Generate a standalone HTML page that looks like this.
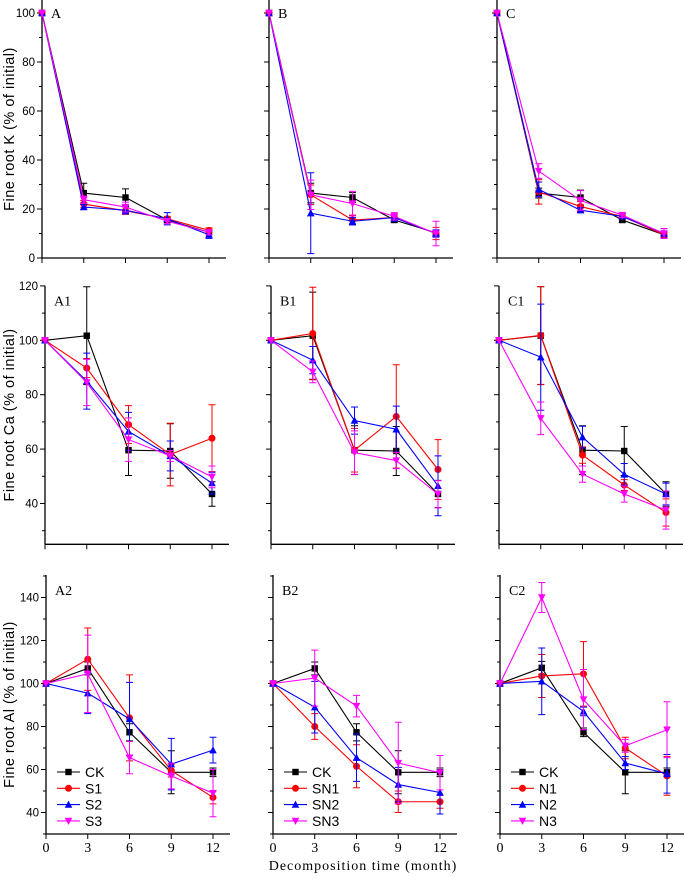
<!DOCTYPE html>
<html><head><meta charset="utf-8">
<style>
html,body{margin:0;padding:0;background:#fff;}
svg{display:block;}
.sans{font-family:"Liberation Sans",Arial,sans-serif;}
.serif{font-family:"Liberation Serif","Times New Roman",serif;}
</style></head>
<body>
<svg id="chart" width="685" height="877" viewBox="0 0 685 877" xmlns="http://www.w3.org/2000/svg"></svg>
<script>
const months = [0, 3, 6, 9, 12];
const colors = ["#000000", "#ff0000", "#0000ff", "#ff00ff"];
const markers = ["square", "circle", "triangle", "triangleDown"];
const rowTitles = ["Fine root K (% of initial)", "Fine root Ca (% of initial)", "Fine root Al (% of initial)"];
const panelLabels = [["A","B","C"],["A1","B1","C1"],["A2","B2","C2"]];
const legendNames = [["CK","S1","S2","S3"],["CK","SN1","SN2","SN3"],["CK","N1","N2","N3"]];
const yTicksK = [0, 20, 40, 60, 80, 100];
const yTicksCa = [40, 60, 80, 100, 120];
const yTicksAl = [40, 60, 80, 100, 120, 140];
const xTickLabels = ["0","3","6","9","12"];

// Row 1: K
const kA = [[100,26.5,24.7,15.5,10.5],[100,22,19.3,16,11.3],[100,20.8,19.5,16,9.5],[100,23.8,20.8,15,10.5]];
const kAerr = [[0,4,3.5,1,1],[0,1.5,1.5,1,1],[0,1,1.5,2.5,1.5],[0,1.5,2,1,1]];
const kB = [[100,26.5,24.7,15.5,10.3],[100,25.8,15.5,16.5,10],[100,18.3,15,16.5,10],[100,25.8,22.2,17,10]];
const kBerr = [[0,4,2,1,1],[0,4,2,1,2.5],[0,16.5,1.5,1.5,1.5],[0,6,5,1.5,5]];
const kC = [[100,26.5,24.7,15.5,9.5],[100,27,21,17,9.5],[100,28,19.5,17,10],[100,35.5,23.5,17.5,10]];
const kCerr = [[0,2,3,1,1],[0,5,2,1,1],[0,3,1,1,2],[0,3,4,1,2]];
// Row 2: Ca
const caA = [[100,101.7,59.6,59.3,43.5],[100,89.8,69,58,64],[100,85,66.5,57.5,47.5],[100,84.5,63.5,57.5,49.8]];
const caAerr = [[0,18,9.3,10,4.5],[0,3.5,7,11.5,12.3],[0,10.3,7,5.5,4],[0,8.5,8,2,4]];
const caB = [[100,101.7,59.6,59.3,43.5],[100,102.5,59.6,72,52.5],[100,92.7,70.5,67.3,46.5],[100,88.4,58.7,55.8,43.4]];
const caBerr = [[0,16,9,9,5],[0,17,8,19,11],[0,5,5,8.5,11],[0,4,8,3,5]];
const caC = [[100,101.7,59.6,59.3,43.5],[100,101.8,57.8,46.8,36.7],[100,93.8,64.4,50.7,43.5],[100,71.3,50.8,43.5,37.6]];
const caCerr = [[0,18,9,9,4.5],[0,18,3,2,5],[0,19.5,4,4,4],[0,6,3,3,7]];
// Row 3: Al
const alA = [[100,107,77.3,58.7,58.7],[100,111.3,84,59.5,47],[100,95.5,83.5,62.5,69],[100,104.5,65.5,57,49]];
const alAerr = [[0,3,4,10,2],[0,14.5,20,3,3],[0,9.5,17,12,6],[0,18,7.5,6,11]];
const alB = [[100,107,77.3,58.7,58.7],[100,80,61.5,45,45],[100,89,65.5,53,49.3],[100,102.5,89.5,63,58.5]];
const alBerr = [[0,3,4,10,2],[0,6,10,5,3],[0,12,11,8,10],[0,13,5,19,8]];
const alC = [[100,107.3,77.3,58.7,58.7],[100,103.5,104.5,70,57],[100,101,87,63,58],[100,140,92.5,71,78.5]];
const alCerr = [[0,3,2,10,2],[0,10,15,5,9],[0,15.5,2,3,9],[0,7,14,3,13]];

const data = [[kA,kB,kC],[caA,caB,caC],[alA,alB,alC]];
const errs = [[kAerr,kBerr,kCerr],[caAerr,caBerr,caCerr],[alAerr,alBerr,alCerr]];
const yTicks = [yTicksK, yTicksCa, yTicksAl];

const NS = "http://www.w3.org/2000/svg";
const svg = document.getElementById("chart");
function mk(tag, attrs, parent){
  const e = document.createElementNS(NS, tag);
  for (const k in attrs) e.setAttribute(k, attrs[k]);
  (parent||svg).appendChild(e);
  return e;
}
const rows = [
  {top:0, yMin:0, yMax:105.3, yAt0:258, scale:2.45, x0s:[42,269,497]},
  {top:285.7, yMin:25, yMax:120, yAt0:544.3+25*2.72, scale:2.72, x0s:[45,271,499]},
  {top:575, yMin:30, yMax:150.4, yAt0:834+30*2.15, scale:2.15, x0s:[46,273,500]}
];
const xw = 167/12;

function drawMarker(g, type, cx, cy, col){
  const s = 3.2;
  let m;
  if (type==="square") m = mk("rect",{x:cx-s,y:cy-s,width:2*s,height:2*s,fill:col},g);
  else if (type==="circle") m = mk("circle",{cx:cx,cy:cy,r:s+0.3,fill:col},g);
  else if (type==="triangle") m = mk("polygon",{points:`${cx},${cy-s-0.8} ${cx-s-0.6},${cy+s} ${cx+s+0.6},${cy+s}`,fill:col},g);
  else m = mk("polygon",{points:`${cx},${cy+s+0.8} ${cx-s-0.6},${cy-s} ${cx+s+0.6},${cy-s}`,fill:col},g);
  
  
}

rows.forEach((R, ri) => {
  const yS = v => R.yAt0 - v * R.scale;
  const bottom = yS(R.yMin);
  R.x0s.forEach((x0, ci) => {
    const xS = m => x0 + m * xw;
    const g = mk("g", {});
    
    
    const ya = mk("line",{x1:x0,y1:R.top,x2:x0,y2:bottom,stroke:"#000","stroke-width":1.3},g);
    
    
    const xa = mk("line",{x1:x0,y1:bottom,x2:x0+184,y2:bottom,stroke:"#000","stroke-width":1.3},g);
    
    
    for (let v = Math.ceil(R.yMin/10)*10; v <= R.yMax; v += 10) {
      const major = yTicks[ri].includes(v);
      mk("line",{x1:x0-(major?5:3),y1:yS(v),x2:x0,y2:yS(v),stroke:"#000","stroke-width":1},g);
    }
    if (ci === 0) {
      yTicks[ri].forEach(v => {
        const t = mk("text",{x:x0-7,y:yS(v)+4,"text-anchor":"end","font-size":11.5,class:"sans"},g);
        t.textContent = v;
        
        
      });
    }
    months.forEach((m, i) => {
      mk("line",{x1:xS(m),y1:bottom,x2:xS(m),y2:bottom+5,stroke:"#000","stroke-width":1},g);
      if (ri === 2) {
        const t = mk("text",{x:xS(m),y:bottom+18,"text-anchor":"middle","font-size":14,class:"serif"},g);
        t.textContent = xTickLabels[i];
        
        
      }
    });
    const pl = mk("text",{x:x0+9,y:R.top+(ri===0?18:20),"font-size":14,class:"serif"},g);
    pl.textContent = panelLabels[ri][ci];
    
    
    data[ri][ci].forEach((vals, si) => {
      const col = colors[si];
      const sg = mk("g",{},g);
      
      
      vals.forEach((v, i) => {
        const e = errs[ri][ci][si][i];
        if (!e) return;
        const x = xS(months[i]);
        const eb = mk("path",{d:`M${x},${yS(v-e)}V${yS(v+e)}M${x-3.5},${yS(v-e)}h7M${x-3.5},${yS(v+e)}h7`,stroke:col,"stroke-width":1,fill:"none"},sg);
        
        
      });
      const pts = vals.map((v,i)=>`${xS(months[i])},${yS(v)}`).join(" ");
      const pl2 = mk("polyline",{points:pts,fill:"none",stroke:col,"stroke-width":1.1},sg);
      
      
      vals.forEach((v,i)=>drawMarker(sg, markers[si], xS(months[i]), yS(v), col));
    });
    if (ri === 2) {
      const lg = mk("g",{},g);
      
      
      legendNames[ci].forEach((nm, si) => {
        const ly = 772 + si * 16.3;
        const lx = x0 + 11;
        const le = mk("g",{},lg);
        
        
        mk("line",{x1:lx,y1:ly,x2:lx+23,y2:ly,stroke:colors[si],"stroke-width":1.1},le);
        drawMarker(le, markers[si], lx+11.5, ly, colors[si]);
        const t = mk("text",{x:lx+28,y:ly+5,"font-size":14,class:"sans"},le);
        t.textContent = nm;
      });
    }
  });
  const cy = (R.top + bottom) / 2;
  const yt = mk("text",{x:0,y:0,transform:`translate(14,${cy}) rotate(-90)`,"text-anchor":"middle","font-size":14.5,"letter-spacing":"0.5",class:"sans"});
  yt.textContent = rowTitles[ri];
  
  
});
const xt = mk("text",{x:363,y:870,"text-anchor":"middle","font-size":14,class:"serif","letter-spacing":"1"});
xt.textContent = "Decomposition time (month)";


</script>
</body></html>
